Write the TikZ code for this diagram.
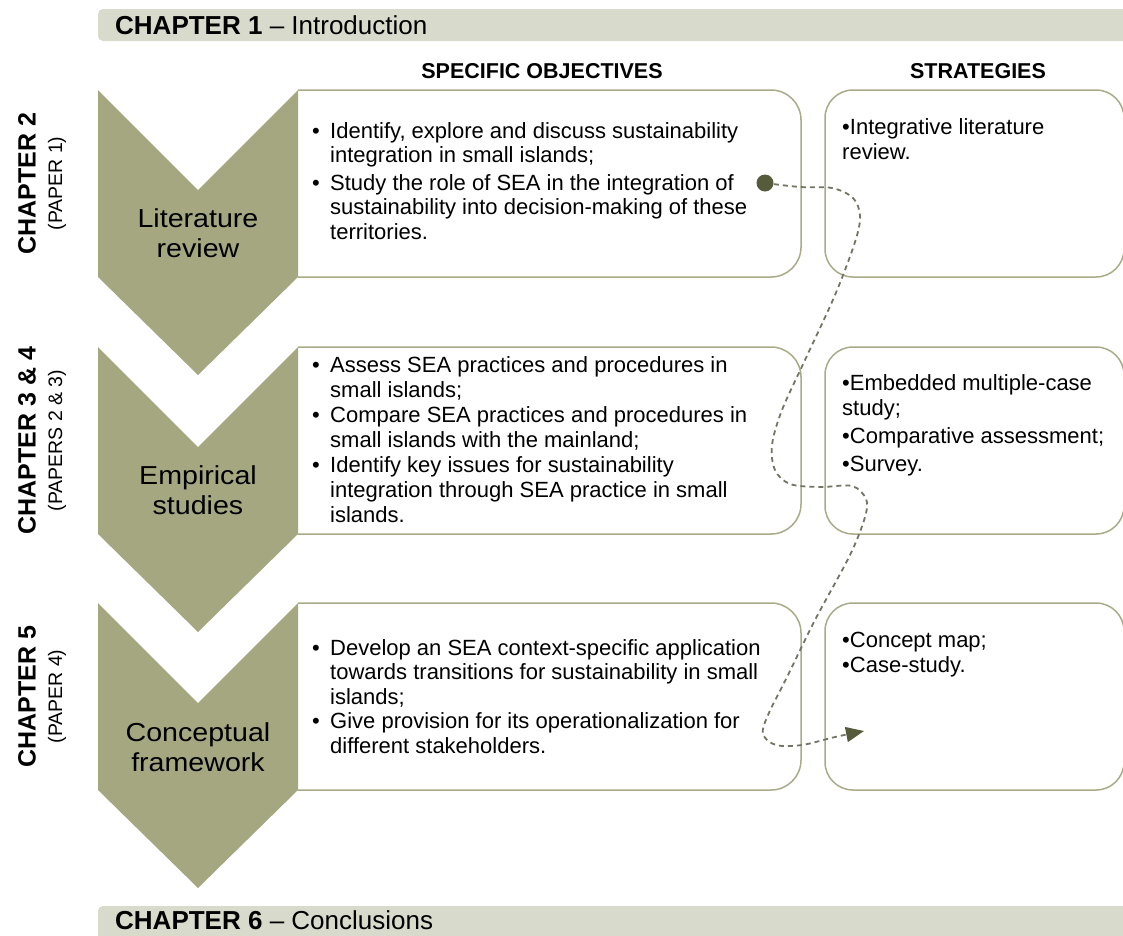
\documentclass[tikz,border=0pt]{standalone}
\usepackage{fontspec}
\setmainfont{Liberation Sans}
\newfontfamily\stagefont[FakeStretch=1.1]{Liberation Sans}
\usetikzlibrary{arrows.meta}

\definecolor{chevfill}{HTML}{A5A781}
\definecolor{boxline}{HTML}{A9AB88}
\definecolor{bandfill}{HTML}{D8DACB}
\definecolor{markcol}{HTML}{565B3B}
\definecolor{flowcol}{HTML}{737463}

% bullet item with hanging indent (objectives)
\newcommand\bitem[1]{\par\noindent\hangindent=18pt\hangafter=1\makebox[18pt][l]{\textbullet}#1\par}
% bullet item without indent (strategies)
\newcommand\sitem[1]{\par\noindent\textbullet#1\par}
\newcommand\bodyfont[2]{\fontsize{22}{#1}\selectfont\raggedright\parskip=#2}

\tikzset{
  chevron/.style={fill=chevfill, draw=none},
  objbox/.style={draw=boxline, line width=1.5pt, rounded corners=30pt},
  stratbox/.style={draw=boxline, line width=1.5pt, rounded corners=28pt},
  band/.style={fill=bandfill, draw=none, rounded corners=5pt},
  bandtext/.style={anchor=base west, inner sep=0, font=\fontsize{26}{30}\selectfont},
  hdr/.style={anchor=base, inner sep=0, font=\bfseries\fontsize{21.5}{26}\selectfont},
  chap/.style={rotate=90, inner sep=0, font=\bfseries\fontsize{25}{30}\selectfont},
  paper/.style={rotate=90, inner sep=0, font=\fontsize{19.5}{24}\selectfont},
  stage/.style={align=center, inner sep=0, font=\stagefont\fontsize{26}{29.5}\selectfont},
  textblock/.style={anchor=base west, inner sep=0},
  flow/.style={draw=flowcol, line width=1.8pt, dash pattern=on 5pt off 4pt},
  dotmark/.style={circle, fill=markcol, inner sep=0, minimum size=17pt}
}

\begin{document}
\begin{tikzpicture}[x=1pt, y=-1pt]
\useasboundingbox (0,0) rectangle (1123,935);
\clip (0,0) rectangle (1123,935);

% chapter bands
\fill[band] (98,9) rectangle (1150,41);
\fill[band] (98,906) rectangle (1150,950);
\node[bandtext] (ch1) at (115,34) {\textbf{CHAPTER 1} -- Introduction};
\node[bandtext] (ch6) at (115,929) {\textbf{CHAPTER 6} -- Conclusions};

% column headers
\node[hdr] (hobj) at (542,78) {SPECIFIC OBJECTIVES};
\node[hdr] (hstr) at (978,78) {STRATEGIES};

% three stages: objective boxes, strategy boxes and chevrons
\foreach \dy in {0,257,513}{
  \begin{scope}[shift={(0,\dy)}]
    \draw[objbox] (298,90) -- (801,90) -- (801,277) -- (298,277);
    \draw[stratbox] (825,90) rectangle (1124,277);
    \fill[chevron] (98,90) -- (198,190) -- (298,90) -- (298,277)
                   -- (198,375) -- (98,277) -- cycle;
  \end{scope}
}

% stage labels
\node[stage] (st1) at (198,233) {Literature\\review};
\node[stage] (st2) at (198,490) {Empirical\\studies};
\node[stage] (st3) at (198,747) {Conceptual\\framework};

% chapter labels
\node[chap]  (c2)  at (27,183.5) {CHAPTER 2};
\node[paper] (p2)  at (57,183.5) {(PAPER 1)};
\node[chap]  (c34) at (27,440.5) {CHAPTER 3 \& 4};
\node[paper] (p34) at (57,440.5) {(PAPERS 2 \& 3)};
\node[chap]  (c5)  at (27,696.5) {CHAPTER 5};
\node[paper] (p5)  at (57,696.5) {(PAPER 4)};

% specific objectives
\node[textblock] (obj1) at (312,138) {\parbox[t]{480pt}{\bodyfont{24.5}{3pt}%
\bitem{Identify, explore and discuss sustainability\newline integration in small islands;}
\bitem{Study the role of SEA in the integration of\newline sustainability into decision-making of these\newline territories.}}};

\node[textblock] (obj2) at (312,372) {\parbox[t]{480pt}{\bodyfont{25}{0pt}%
\bitem{Assess SEA practices and procedures in\newline small islands;}
\bitem{Compare SEA practices and procedures in\newline small islands with the mainland;}
\bitem{Identify key issues for sustainability\newline integration through SEA practice in small\newline islands.}}};

\node[textblock] (obj3) at (312,655) {\parbox[t]{480pt}{\bodyfont{24.5}{0pt}%
\bitem{Develop an SEA context-specific application\newline towards transitions for sustainability in small\newline islands;}
\bitem{Give provision for its operationalization for\newline different stakeholders.}}};

% strategies
\node[textblock] (str1) at (842,134) {\parbox[t]{270pt}{\bodyfont{25}{3pt}%
\sitem{Integrative literature\newline review.}}};

\node[textblock] (str2) at (842,390) {\parbox[t]{270pt}{\bodyfont{25}{3pt}%
\sitem{Embedded multiple-case\newline study;}
\sitem{Comparative assessment;}
\sitem{Survey.}}};

\node[textblock] (str3) at (842,647) {\parbox[t]{270pt}{\bodyfont{25}{0pt}%
\sitem{Concept map;}
\sitem{Case-study.}}};

% dashed thread linking the stages
\coordinate (src) at (765,183);
\coordinate (tip) at (864,731);
\draw[flow, -{Triangle[length=18pt,width=15pt,color=markcol,fill=markcol]}]
  plot[smooth, tension=0.55] coordinates {(src) (800,187) (832,188) (853,198)
    (860,216) (855,242) (835,295) (805,360) (782,410) (772,445) (775,470)
    (790,484) (820,487) (852,486) (866,499) (865,517) (850,555) (815,620)
    (788,675) (768,715) (763,734) (776,745) (802,745) (835,737) (tip)};
\node[dotmark] (dot) at (src) {};

\end{tikzpicture}
\end{document}
